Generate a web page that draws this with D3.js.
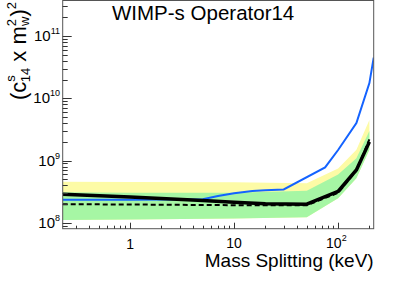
<!DOCTYPE html>
<html>
<head>
<meta charset="utf-8">
<script src="https://cdn.jsdelivr.net/npm/d3@7"></script>
<style>
  body { margin: 0; background: #fff; }
  svg { display: block; font-family: "Liberation Sans", Arial, sans-serif; }
</style>
</head>
<body>
<div id="chart"></div>
<script>
// mass splitting grid (keV)
var bandMass = [0.225, 1, 10, 50, 100, 150, 200];
var yellowHi = [4.6e8, 4.55e8, 4.5e8, 4.35e8, 7.5e8, 1.5e9, 4.5e9];
var greenHi  = [3.1e8, 3.05e8, 3.05e8, 3.3e8, 6.0e8, 1.09e9, 3.0e9];
var greenLo  = [1.12e8, 1.14e8, 1.18e8, 1.24e8, 2.5e8, 5.2e8, 1.5e9];
var yellowLo = greenLo;

var expMass = [0.225, 1, 10, 50, 100, 150, 200];
var expVal  = [2.0e8, 1.98e8, 1.93e8, 1.92e8, 3.05e8, 6.9e8, 2.2e9];

var obsMass = [0.225, 1, 5, 10, 20, 50, 100, 150, 200];
var obsVal  = [2.9e8, 2.6e8, 2.3e8, 2.15e8, 2.03e8, 2.0e8, 3.2e8, 7.1e8, 2.0e9];

var blueMass = [0.225, 1, 5, 7, 10, 15, 20, 30, 75, 100, 150, 200, 220];
var blueVal  = [2.35e8, 2.35e8, 2.4e8, 2.7e8, 3.0e8, 3.25e8, 3.35e8, 3.45e8, 7.8e8, 1.48e9, 4.0e9, 1.75e10, 4.5e10];

var xTicks = [1, 10, 100];
var yTicks = [1e8, 1e9, 1e10, 1e11];

var width = 415, height = 281;
var fL = 62.7, fR = 373.7, fT = 0.5, fB = 228.7;

var svg = d3.select("#chart").append("svg")
    .attr("width", width)
    .attr("height", height);

var x = d3.scaleLog().domain([0.225, 220]).range([fL, fR]);
var y = d3.scaleLog().domain([8.1e7, 3.7e11]).range([fB, fT]);

svg.append("clipPath").attr("id", "clip")
  .append("rect")
    .attr("x", fL).attr("y", fT)
    .attr("width", fR - fL).attr("height", fB - fT);

var plot = svg.append("g").attr("clip-path", "url(#clip)");

function band(lo, hi) {
    return d3.area()
        .x(function(d, i) { return x(bandMass[i]); })
        .y0(function(d, i) { return y(lo[i]); })
        .y1(function(d, i) { return y(hi[i]); })(bandMass);
}

plot.append("path").attr("d", band(yellowLo, yellowHi)).attr("fill", "#fdfba6");
plot.append("path").attr("d", band(greenLo, greenHi)).attr("fill", "#a6f6a4");

function line(ms, vs) {
    return d3.line()
        .x(function(d, i) { return x(ms[i]); })
        .y(function(d, i) { return y(vs[i]); })(ms);
}

plot.append("path").attr("d", line(blueMass, blueVal))
    .attr("fill", "none").attr("stroke", "#1463ff").attr("stroke-width", 2);
plot.append("path").attr("d", line(expMass, expVal))
    .attr("fill", "none").attr("stroke", "#000").attr("stroke-width", 2)
    .attr("stroke-dasharray", "5,3");
plot.append("path").attr("d", line(obsMass, obsVal))
    .attr("fill", "none").attr("stroke", "#000").attr("stroke-width", 3.5)
    .attr("stroke-linejoin", "round");

// frame
svg.append("rect")
    .attr("x", fL).attr("y", fT)
    .attr("width", fR - fL).attr("height", fB - fT)
    .attr("fill", "none").attr("stroke", "#555").attr("stroke-width", 1);

// y axis ticks (inside)
var yAx = svg.append("g");
y.ticks().forEach(function(t) {
    var major = yTicks.indexOf(t) >= 0;
    var yy = Math.round(y(t)) + 0.5;
    if (yy < fT || yy > fB) return;
    yAx.append("line")
        .attr("x1", fL).attr("x2", fL + (major ? 9 : 5))
        .attr("y1", yy).attr("y2", yy)
        .attr("stroke", "#333").attr("stroke-width", 1);
});
yTicks.forEach(function(t) {
    var e = Math.round(Math.log10(t));
    var txt = yAx.append("text")
        .attr("x", 60).attr("y", y(t) + 5)
        .attr("text-anchor", "end")
        .attr("font-size", 15);
    txt.append("tspan").text("10");
    txt.append("tspan").attr("font-size", 9).attr("dy", -7).text(e);
});

// x axis ticks (inside)
var xAx = svg.append("g");
x.ticks().forEach(function(t) {
    var major = xTicks.indexOf(t) >= 0;
    var xx = Math.round(x(t)) + 0.5;
    if (xx < fL || xx > fR) return;
    xAx.append("line")
        .attr("x1", xx).attr("x2", xx)
        .attr("y1", fB).attr("y2", fB - (major ? 6 : 3))
        .attr("stroke", "#333").attr("stroke-width", 1);
});
xAx.append("text").attr("x", x(1)).attr("y", 249)
    .attr("text-anchor", "middle").attr("font-size", 14).text("1");
xAx.append("text").attr("x", x(10)).attr("y", 248)
    .attr("text-anchor", "middle").attr("font-size", 14).text("10");
var t100 = xAx.append("text").attr("x", x(100) - 12).attr("y", 248)
    .attr("font-size", 14);
t100.append("tspan").text("10");
t100.append("tspan").attr("font-size", 9).attr("dy", -7).text("2");

// axis titles
svg.append("text")
    .attr("x", fR).attr("y", 267)
    .attr("text-anchor", "end")
    .attr("font-size", 19)
    .text("Mass Splitting (keV)");

var yt = svg.append("text")
    .attr("transform", "translate(26,2) rotate(-90)")
    .attr("text-anchor", "end")
    .attr("font-size", 22);
yt.append("tspan").text("(c");
yt.append("tspan").attr("font-size", 13).attr("dy", -11).text("s");
yt.append("tspan").attr("font-size", 13).attr("dy", 15).attr("dx", -7).text("14");
yt.append("tspan").attr("dy", -4).text(" x m");
yt.append("tspan").attr("font-size", 13).attr("dy", -10).text("2");
yt.append("tspan").attr("font-size", 13).attr("dy", 13).attr("dx", -7).text("w");
yt.append("tspan").attr("dy", -3).text(")");
yt.append("tspan").attr("font-size", 13).attr("dy", -10).text("2");

svg.append("text")
    .attr("x", 112).attr("y", 20)
    .attr("font-size", 20.5)
    .text("WIMP-s Operator14");
</script>
</body>
</html>
